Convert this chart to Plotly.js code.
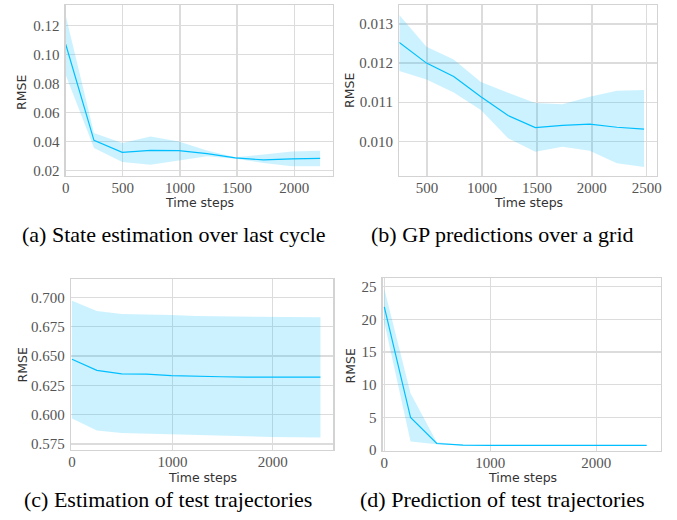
<!DOCTYPE html>
<html>
<head>
<meta charset="utf-8">
<script src="https://cdn.plot.ly/plotly-3.0.1.min.js"></script>
<style>html,body{margin:0;padding:0;background:#fff;}#chart{width:677px;height:520px;}</style>
</head>
<body>
<div id="chart"></div>
<script>
// ---- Data ----
var xA = [0, 247.5, 495, 742.5, 990, 1237.5, 1485, 1732.5, 1980, 2227.5];
var meanA = [0.1072, 0.0407, 0.0324, 0.0338, 0.0336, 0.0315, 0.0286, 0.0272, 0.0279, 0.0283];
var upperA = [0.127, 0.0458, 0.0389, 0.0434, 0.0400, 0.0338, 0.0290, 0.0308, 0.0331, 0.0336];
var lowerA = [0.086, 0.0355, 0.0258, 0.0239, 0.0269, 0.0297, 0.0280, 0.0251, 0.0228, 0.0228];

var xB = [247.5, 495, 742.5, 990, 1237.5, 1485, 1732.5, 1980, 2227.5, 2475];
var meanB = [0.01253, 0.01200, 0.01166, 0.01114, 0.01066, 0.01035, 0.01041, 0.01044, 0.01036, 0.01031];
var upperB = [0.01323, 0.01242, 0.01209, 0.01152, 0.01124, 0.01098, 0.01095, 0.01114, 0.01129, 0.01131];
var lowerB = [0.01180, 0.01158, 0.01125, 0.01080, 0.01008, 0.00973, 0.00986, 0.00976, 0.00944, 0.00934];

var xC = [0, 247.5, 495, 742.5, 990, 1237.5, 1485, 1732.5, 1980, 2227.5, 2475];
var meanC = [0.6472, 0.6378, 0.6347, 0.6345, 0.6333, 0.6326, 0.6323, 0.6320, 0.6320, 0.6320, 0.6320];
var upperC = [0.6971, 0.6883, 0.6857, 0.6854, 0.6849, 0.6840, 0.6837, 0.6834, 0.6833, 0.6831, 0.6830];
var lowerC = [0.5968, 0.5866, 0.5843, 0.5837, 0.5829, 0.5823, 0.5817, 0.5813, 0.5810, 0.5807, 0.5806];

var xD = [0, 247.5, 495, 742.5, 990, 1237.5, 1485, 1732.5, 1980, 2227.5, 2475];
var meanD = [21.9, 5.0, 1.0, 0.75, 0.72, 0.71, 0.70, 0.70, 0.70, 0.70, 0.70];
var upperD = [24.7, 8.7, 1.2, 0.8, 0.76, 0.74, 0.73, 0.73, 0.73, 0.73, 0.73];
var lowerD = [19.5, 1.3, 0.9, 0.7, 0.68, 0.67, 0.67, 0.67, 0.67, 0.67, 0.67];

var captions = ["(a) State estimation over last cycle", "(b) GP predictions over a grid",
                "(c) Estimation of test trajectories", "(d) Prediction of test trajectories"];
var xTitle = "Time steps";
var yTitle = "RMSE";

// ---- Styling ----
var lineColor = "#00BFFF";
var bandColor = "rgba(0,191,255,0.2)";
var gridColor = "#DCDCDC";
var serif = "Liberation Serif, serif";

function band(x, lo, hi, mean, xa, ya) {
  return [
    {x: x, y: lo, xaxis: xa, yaxis: ya, mode: "lines", line: {width: 0, color: bandColor}, hoverinfo: "skip", showlegend: false},
    {x: x, y: hi, xaxis: xa, yaxis: ya, mode: "lines", line: {width: 0, color: bandColor}, fill: "tonexty", fillcolor: bandColor, hoverinfo: "skip", showlegend: false},
    {x: x, y: mean, xaxis: xa, yaxis: ya, mode: "lines", line: {width: 1.2, color: lineColor}, showlegend: false}
  ];
}

var data = [].concat(
  band(xA, lowerA, upperA, meanA, "x", "y"),
  band(xB, lowerB, upperB, meanB, "x2", "y2"),
  band(xC, lowerC, upperC, meanC, "x3", "y3"),
  band(xD, lowerD, upperD, meanD, "x4", "y4")
);

var tickFont = {family: serif, size: 15, color: "#555"};
function ax(domain, range, tickvals, fmt, anchor, isY) {
  return {
    domain: domain, range: range, tickvals: tickvals, tickformat: fmt, anchor: anchor,
    showgrid: true, gridcolor: gridColor, gridwidth: 1.3, zeroline: false,
    showline: true, mirror: true, linecolor: "#D3D3D3", linewidth: 1.3,
    ticks: isY ? "outside" : "", ticklen: isY ? 2 : 0, tickcolor: "rgba(0,0,0,0)",
    ticklabelstandoff: isY ? 0 : -2,
    tickfont: tickFont, fixedrange: true
  };
}

var W = 677, H = 520;
function px(x) { return x / W; }
function py(y) { return 1 - y / H; }

var layout = {
  width: W, height: H,
  margin: {l: 0, r: 0, t: 0, b: 0},
  paper_bgcolor: "#fff", plot_bgcolor: "#fff",
  showlegend: false,
  xaxis:  ax([px(65.7), px(333)], [0, 2340], [0, 500, 1000, 1500, 2000], "d", "y", false),
  yaxis:  ax([py(176), py(5)], [0.0161, 0.1343], [0.02, 0.04, 0.06, 0.08, 0.10, 0.12], ".2f", "x", true),
  xaxis2: ax([px(399.3), px(656.7)], [247.5, 2590], [500, 1000, 1500, 2000, 2500], "d", "y2", false),
  yaxis2: ax([py(176), py(5)], [0.009113, 0.013486], [0.010, 0.011, 0.012, 0.013], ".3f", "x2", true),
  xaxis3: ax([px(71), px(333.3)], [-10, 2603], [0, 1000, 2000], "d", "y3", false),
  yaxis3: ax([py(450), py(279)], [0.5699, 0.7156], [0.575, 0.600, 0.625, 0.650, 0.675, 0.700], ".3f", "x3", true),
  xaxis4: ax([px(382.7), px(661)], [-15, 2610], [0, 1000, 2000], "d", "y4", false),
  yaxis4: ax([py(450.7), py(278.3)], [-0.1, 26.28], [0, 5, 10, 15, 20, 25], "d", "x4", true),
  annotations: []
};

var labFont = {family: "DejaVu Sans, sans-serif", size: 12.5, color: "#333"};
var capFont = {family: serif, size: 22, color: "#000"};
var xTitlePos = [[199, 203], [528, 203], [202.5, 477], [522.5, 477]];
var yTitlePos = [[21.5, 92.5], [349.5, 90.5], [21.5, 365], [349.5, 366]];
var capPos = [[174, 235], [502, 235], [168, 499], [502.5, 499]];
for (var i = 0; i < 4; i++) {
  layout.annotations.push({text: xTitle, x: px(xTitlePos[i][0]), y: py(xTitlePos[i][1]), xref: "paper", yref: "paper", xanchor: "center", yanchor: "middle", showarrow: false, font: labFont});
  layout.annotations.push({text: yTitle, x: px(yTitlePos[i][0]), y: py(yTitlePos[i][1]), xref: "paper", yref: "paper", xanchor: "center", yanchor: "middle", showarrow: false, textangle: -90, font: labFont});
  layout.annotations.push({text: captions[i], x: px(capPos[i][0]), y: py(capPos[i][1]), xref: "paper", yref: "paper", xanchor: "center", yanchor: "middle", showarrow: false, font: capFont});
}

Plotly.newPlot("chart", data, layout, {displayModeBar: false, staticPlot: true});
</script>
</body>
</html>
